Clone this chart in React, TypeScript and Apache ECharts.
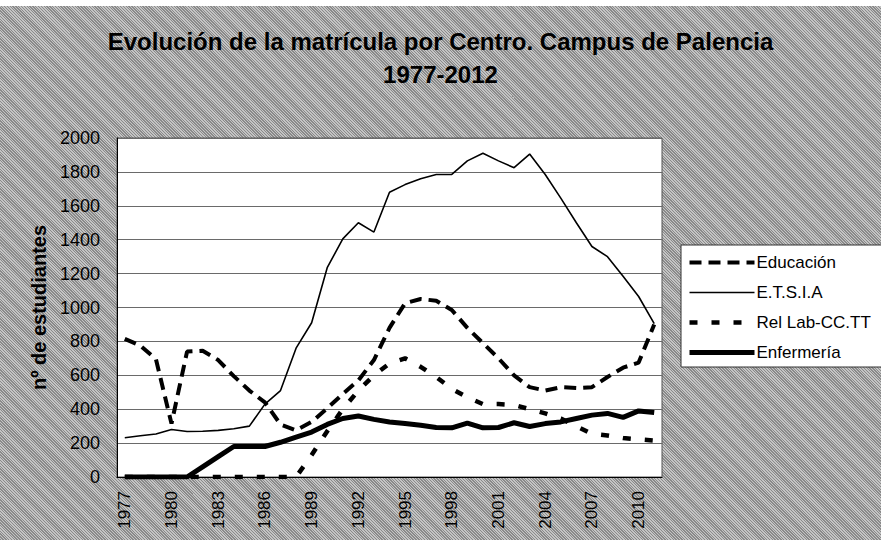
import React, { useEffect, useRef } from "react";
import * as echarts from "echarts";

const years = [
  "1977", "1978", "1979", "1980", "1981", "1982", "1983", "1984", "1985", "1986",
  "1987", "1988", "1989", "1990", "1991", "1992", "1993", "1994", "1995", "1996",
  "1997", "1998", "1999", "2000", "2001", "2002", "2003", "2004", "2005", "2006",
  "2007", "2008", "2009", "2010", "2011",
];

const educacion = [
  815, 775, 695, 315, 740, 745, 690, 595, 510, 440,
  310, 275, 325, 405, 490, 570, 690, 880, 1025, 1050,
  1040, 985, 880, 790, 700, 600, 530, 510, 530, 525,
  530, 590, 645, 675, 900,
];

const etsia = [
  232, 243, 254, 280, 268, 270, 275, 285, 300, 430,
  510, 760, 910, 1235, 1405, 1500, 1445, 1680, 1725, 1760,
  1785, 1785, 1865, 1910, 1865, 1825, 1905, 1785, 1645, 1500,
  1360, 1300, 1185, 1065, 905,
];

const relLab = [
  0, 0, 0, 0, 0, 0, 0, 0, 0, 0,
  0, 0, 130, 270, 400, 510, 600, 670, 700, 650,
  590, 520, 470, 430, 430, 425, 400, 375, 345, 300,
  255, 245, 230, 222, 215,
];

const enfermeria = [
  0, 0, 0, 0, 0, 60, 120, 180, 180, 180,
  205, 235, 265, 310, 345, 360, 340, 325, 315, 305,
  292, 290, 318, 290, 292, 320, 298, 315, 325, 345,
  365, 375, 352, 390, 380,
];

const seriesNames = ["Educación", "E.T.S.I.A", "Rel Lab-CC.TT", "Enfermería"];
const yTicks = { min: 0, max: 2000, interval: 200 };
const titleLines = ["Evolución de la matrícula por Centro. Campus de Palencia", "1977-2012"];
const yAxisName = "nº de estudiantes";

const FONT = "Liberation Sans, Arial, sans-serif";

export default function App() {
  const ref = useRef<HTMLDivElement>(null);

  useEffect(() => {
    if (!ref.current) return;
    const chart = echarts.init(ref.current, undefined, { renderer: "svg" });
    chart.setOption({
      animation: false,
      backgroundColor: "transparent",
      color: ["#000", "#000", "#000", "#000"],
      title: {
        text: titleLines.join("\n"),
        left: "center",
        top: 20,
        textStyle: {
          fontFamily: FONT,
          fontSize: 24,
          fontWeight: "bold",
          color: "#000",
          lineHeight: 33,
        },
      },
      grid: {
        left: 117,
        right: 219,
        top: 138,
        bottom: 63,
        show: true,
        backgroundColor: "#ffffff",
        borderColor: "#555",
        borderWidth: 1,
      },
      legend: {
        orient: "vertical",
        left: 681,
        top: 245,
        data: seriesNames,
        backgroundColor: "#ffffff",
        borderColor: "#333",
        borderWidth: 1,
        borderRadius: 0,
        padding: [9, 14, 6, 6],
        itemWidth: 65,
        itemHeight: 14,
        itemGap: 13,
        itemStyle: { color: "transparent", opacity: 0, borderWidth: 0 },
        lineStyle: { width: "inherit", type: "inherit", color: "#000" },
        textStyle: { fontFamily: FONT, fontSize: 17, color: "#000", padding: [0, 0, 0, -3] },
      },
      xAxis: {
        type: "category",
        data: years,
        boundaryGap: true,
        axisLine: { show: true, lineStyle: { color: "#000", width: 1 } },
        axisTick: { show: false },
        axisLabel: {
          interval: 2,
          rotate: 90,
          fontFamily: FONT,
          fontSize: 17,
          color: "#000",
          margin: 14,
        },
        splitLine: { show: false },
      },
      yAxis: {
        type: "value",
        min: yTicks.min,
        max: yTicks.max,
        interval: yTicks.interval,
        name: yAxisName,
        nameLocation: "middle",
        nameRotate: 90,
        nameGap: 51,
        nameTextStyle: { fontFamily: FONT, fontSize: 20, fontWeight: "bold", color: "#000" },
        axisLine: { show: true, lineStyle: { color: "#000", width: 1 } },
        axisTick: { show: false },
        axisLabel: {
          fontFamily: FONT,
          fontSize: 18,
          color: "#000",
          margin: 17,
          formatter: (v: number) => String(v),
        },
        splitLine: { show: true, lineStyle: { color: "#6a6a6a", width: 1 } },
      },
      series: [
        {
          name: seriesNames[0],
          type: "line",
          data: educacion,
          symbol: "none",
          z: 3,
          itemStyle: { color: "#000" },
          lineStyle: { color: "#000", width: 4, type: [12, 7] },
        },
        {
          name: seriesNames[1],
          type: "line",
          data: etsia,
          symbol: "none",
          z: 2,
          itemStyle: { color: "#000" },
          lineStyle: { color: "#000", width: 1.6, type: "solid" },
        },
        {
          name: seriesNames[2],
          type: "line",
          data: relLab,
          symbol: "none",
          z: 3,
          itemStyle: { color: "#000" },
          lineStyle: { color: "#000", width: 4.5, type: [8, 14] },
        },
        {
          name: seriesNames[3],
          type: "line",
          data: enfermeria,
          symbol: "none",
          z: 4,
          itemStyle: { color: "#000" },
          lineStyle: { color: "#000", width: 5, type: "solid" },
        },
      ],
    });
    return () => chart.dispose();
  }, []);

  return (
    <div
      style={{
        position: "fixed",
        left: 0,
        top: 0,
        width: 881,
        height: 540,
        background: "#ffffff",
      }}
    >
      <div
        style={{
          position: "absolute",
          left: 0,
          top: 6,
          width: 881,
          height: 534,
          background:
            "repeating-linear-gradient(45deg, #8a8a8a 0px, #8a8a8a 1px, #c4c4c4 1px, #c4c4c4 2px)",
        }}
      />
      <div ref={ref} style={{ position: "absolute", left: 0, top: 0, width: 881, height: 540 }} />
    </div>
  );
}
